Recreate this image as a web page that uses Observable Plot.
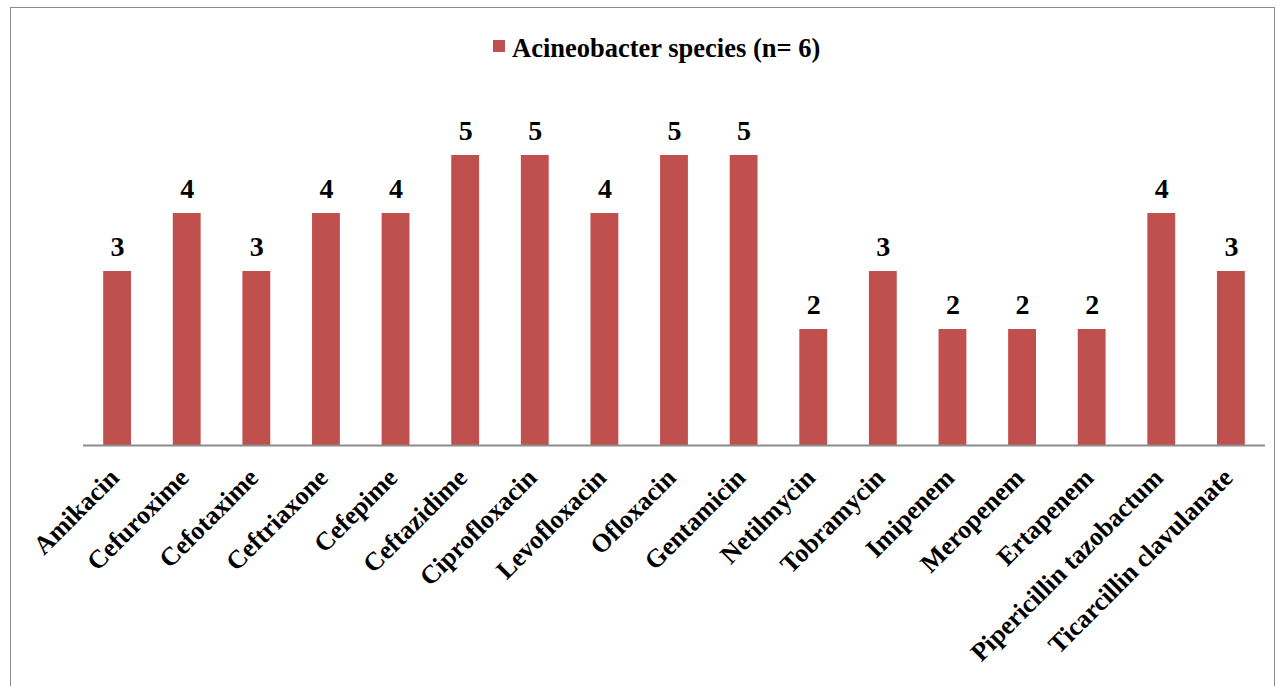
<!DOCTYPE html>
<html>
<head>
<meta charset="utf-8">
<script src="https://cdn.jsdelivr.net/npm/d3@7"></script>
<script src="https://cdn.jsdelivr.net/npm/@observablehq/plot@0.6"></script>
<style>
  html, body { margin: 0; padding: 0; background: #fff; }
  #wrap { position: relative; width: 1277px; height: 686px; overflow: hidden; font-family: "Liberation Serif", "Times New Roman", serif; }
  #frame { position: absolute; left: 10px; top: 7px; width: 1265px; height: 700px; border: 1.5px solid #8c8c8c; box-sizing: border-box; pointer-events: none; }
  #legend { position: absolute; left: 0; top: 0; width: 1277px; height: 70px; }
  #legend .sw { position: absolute; left: 493px; top: 40px; width: 12px; height: 12px; background: #C0504D; }
  #legend .lbl { position: absolute; left: 512px; top: 35px; font-weight: bold; font-size: 26.5px; line-height: 26px; color: #000; white-space: nowrap; }
  #chart { position: absolute; left: 0; top: 70px; }
</style>
</head>
<body>
<div id="wrap">
  <div id="legend"><span class="sw"></span><span class="lbl" id="legendLabel"></span></div>
  <div id="chart"></div>
  <div id="frame"></div>
</div>
<script>
const categories = ["Amikacin","Cefuroxime","Cefotaxime","Ceftriaxone","Cefepime","Ceftazidime","Ciprofloxacin","Levofloxacin","Ofloxacin","Gentamicin","Netilmycin","Tobramycin","Imipenem","Meropenem","Ertapenem","Pipericillin tazobactum","Ticarcillin clavulanate"];
const values = [3,4,3,4,4,5,5,4,5,5,2,3,2,2,2,4,3];
const seriesName = "Acineobacter species (n= 6)";

document.getElementById("legendLabel").textContent = seriesName;

const data = categories.map((c, i) => ({category: c, value: values[i]}));

const chart = Plot.plot({
  width: 1277,
  height: 616,
  marginLeft: 83,
  marginRight: 12,
  marginTop: 27,
  marginBottom: 241,
  style: {fontFamily: "'Liberation Serif', 'Times New Roman', serif", background: "transparent"},
  x: {domain: categories, paddingInner: 0.6, paddingOuter: 0.29, round: false, label: null},
  y: {domain: [0, 6], axis: null},
  marks: [
    Plot.barY(data, {x: "category", y: "value", fill: "#C0504D"}),
    Plot.ruleY([0], {stroke: "#8c8c8c", strokeWidth: 2}),
    Plot.text(data, {x: "category", y: "value", text: d => String(d.value), lineAnchor: "bottom", dy: -16, fontSize: 28, fontWeight: "bold", fill: "#000"}),
    Plot.axisX({tickSize: 0, tickPadding: 28, dx: -3, tickRotate: -45, fontSize: 26, fontWeight: "bold", fill: "#000", label: null})
  ]
});
document.getElementById("chart").appendChild(chart);
</script>
</body>
</html>
